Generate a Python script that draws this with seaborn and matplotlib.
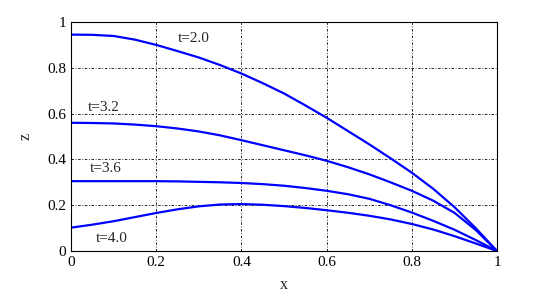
import numpy as np
import pandas as pd
import seaborn as sns
import matplotlib
matplotlib.use("Agg")
import matplotlib.pyplot as plt

# curve samples
x_vals = [0.0, 0.05, 0.1, 0.15, 0.2, 0.25, 0.3, 0.35, 0.4, 0.45, 0.5,
          0.55, 0.6, 0.65, 0.7, 0.75, 0.8, 0.85, 0.9, 0.95, 1.0]
z_t20 = [0.945, 0.944, 0.939, 0.923, 0.900, 0.873, 0.845, 0.812, 0.775, 0.733, 0.688,
         0.636, 0.582, 0.524, 0.466, 0.405, 0.342, 0.272, 0.192, 0.100, 0.0]
z_t32 = [0.560, 0.559, 0.557, 0.552, 0.545, 0.535, 0.522, 0.505, 0.484, 0.462, 0.440,
         0.418, 0.394, 0.366, 0.335, 0.300, 0.263, 0.220, 0.167, 0.092, 0.0]
z_t36 = [0.305, 0.305, 0.305, 0.305, 0.305, 0.304, 0.302, 0.300, 0.297, 0.292, 0.285,
         0.275, 0.263, 0.248, 0.228, 0.200, 0.168, 0.132, 0.093, 0.048, 0.0]
z_t40 = [0.102, 0.115, 0.130, 0.148, 0.166, 0.182, 0.195, 0.203, 0.205, 0.202, 0.196,
         0.188, 0.178, 0.167, 0.154, 0.138, 0.118, 0.094, 0.065, 0.033, 0.0]
labels = ["t=2.0", "t=3.2", "t=3.6", "t=4.0"]
label_pos = [(0.25, 0.93), (0.04, 0.625), (0.043, 0.36), (0.058, 0.055)]

df = pd.DataFrame({
    "x": x_vals * 4,
    "z": z_t20 + z_t32 + z_t36 + z_t40,
    "t": [l for l in labels for _ in x_vals],
})

sns.set_style("white")
plt.rcParams["font.family"] = ["Liberation Serif", "DejaVu Serif"]
plt.rcParams["font.size"] = 11

fig = plt.figure(figsize=(5.49, 2.93), dpi=100)
ax = fig.add_axes([71 / 549, 1 - 251 / 293, 426 / 549, 229 / 293])

sns.lineplot(data=df, x="x", y="z", units="t", estimator=None,
             color="#0000ff", lw=1.6, ax=ax, legend=False)

for lab, (px, py) in zip(labels, label_pos):
    ax.text(px, py, lab, ha="left", va="center", fontsize=11)

ax.set_xlim(0, 1)
ax.set_ylim(0, 1)
ax.set_xticks([0, 0.2, 0.4, 0.6, 0.8, 1])
ax.set_yticks([0, 0.2, 0.4, 0.6, 0.8, 1])
ax.set_xticklabels(["0", "0.2", "0.4", "0.6", "0.8", "1"])
ax.set_yticklabels(["0", "0.2", "0.4", "0.6", "0.8", "1"])
ax.grid(True, color="black", linestyle=(0, (3, 2, 1, 2)), linewidth=0.6)
ax.tick_params(direction="in", length=4, width=0.8, colors="black", labelsize=11)
for s in ax.spines.values():
    s.set_visible(True)
    s.set_color("black")
    s.set_linewidth(0.8)
ax.set_xlabel("x", fontsize=11.5, labelpad=6)
ax.set_ylabel("z", fontsize=11.5, labelpad=10)

fig.savefig("out.png", dpi=100)
